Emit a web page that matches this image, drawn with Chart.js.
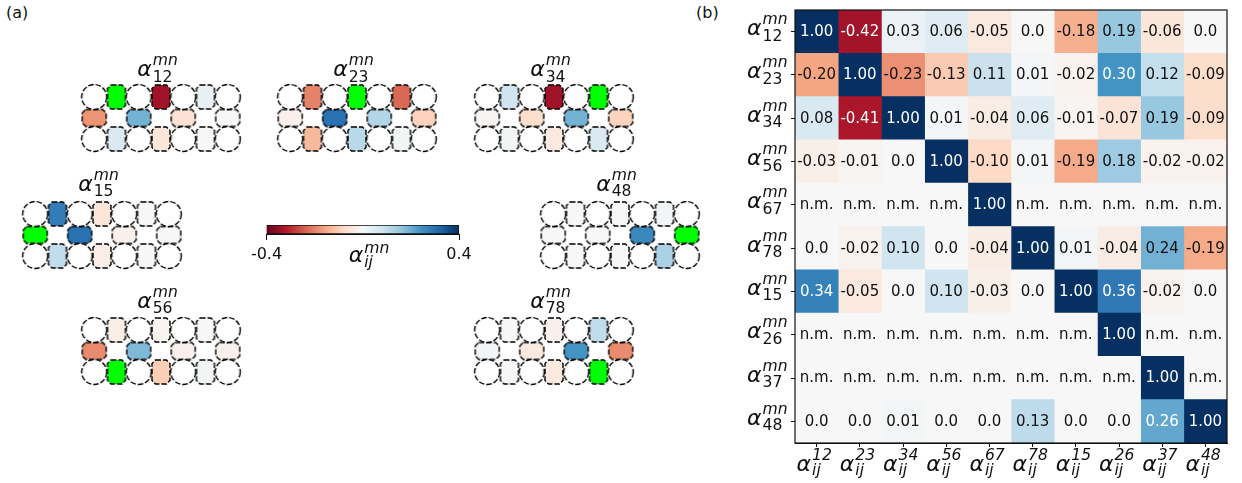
<!DOCTYPE html>
<html lang="en">
<head>
<meta charset="UTF-8">
<title>Correlation maps</title>
<script src="https://cdn.jsdelivr.net/npm/chart.js"></script>
<style>
  html, body { margin: 0; background: #fff; }
  body { position: relative; width: 1242px; height: 483px; overflow: hidden; font-family: "DejaVu Sans", sans-serif; }
  canvas { position: absolute; }
  .tag { position: absolute; font-size: 16px; line-height: 18px; color: #111; }
</style>
</head>
<body>
<div class="tag" style="left:6px;top:4px">(a)</div>
<div class="tag" style="left:696px;top:4px">(b)</div>
<canvas id="panel0"></canvas>
<canvas id="panel1"></canvas>
<canvas id="panel2"></canvas>
<canvas id="panel3"></canvas>
<canvas id="panel4"></canvas>
<canvas id="panel5"></canvas>
<canvas id="panel6"></canvas>
<canvas id="bar"></canvas>
<canvas id="heat"></canvas>
<script>
// data
const colLabels = ['12', '23', '34', '56', '67', '78', '15', '26', '37', '48'];
const rowLabels = ['12', '23', '34', '56', '67', '78', '15', '26', '37', '48'];
const nm = null; // not measured
const row12 = [1.00, -0.42, 0.03, 0.06, -0.05, 0.0, -0.18, 0.19, -0.06, 0.0];
const row23 = [-0.20, 1.00, -0.23, -0.13, 0.11, 0.01, -0.02, 0.30, 0.12, -0.09];
const row34 = [0.08, -0.41, 1.00, 0.01, -0.04, 0.06, -0.01, -0.07, 0.19, -0.09];
const row56 = [-0.03, -0.01, 0.0, 1.00, -0.10, 0.01, -0.19, 0.18, -0.02, -0.02];
const row67 = [nm, nm, nm, nm, 1.00, nm, nm, nm, nm, nm];
const row78 = [0.0, -0.02, 0.10, 0.0, -0.04, 1.00, 0.01, -0.04, 0.24, -0.19];
const row15 = [0.34, -0.05, 0.0, 0.10, -0.03, 0.0, 1.00, 0.36, -0.02, 0.0];
const row26 = [nm, nm, nm, nm, nm, nm, nm, 1.00, nm, nm];
const row37 = [nm, nm, nm, nm, nm, nm, nm, nm, 1.00, nm];
const row48 = [0.0, 0.0, 0.01, 0.0, 0.0, 0.13, 0.0, 0.0, 0.26, 1.00];
const matrix = [row12, row23, row34, row56, row67, row78, row15, row26, row37, row48];

// the small maps are a bit paler than the table says for these sites (row, column, value by eye)
const latticeTweaks = [['12', 1, -0.34], ['34', 1, -0.34], ['15', 0, 0.28], ['15', 7, 0.30]];

// lattice sites, in half steps along x and rows down y
const circleX = [0, 2, 4, 6, 0, 2, 4, 6];
const circleY = [0, 0, 0, 0, 2, 2, 2, 2];
const cellX = [1, 3, 5, 1, 3, 5, 0, 2, 4, 6];
const cellY = [0, 0, 0, 2, 2, 2, 1, 1, 1, 1];

// which row each small lattice shows, and where its top left circle sits
const panelRows = ['12', '23', '34', '15', '48', '56', '78'];
const panelSpots = [[94, 97, 0], [290, 97, 0], [486.7, 97, 0], [35, 214.3, -2.5], [553.3, 214.3, -2.5], [94, 330, -1.5], [486.7, 330, -1.5]];

const barTicks = [-0.4, 0.4];

const FONT = '"DejaVu Sans"';
const rdbu = ['#67001f', '#b2182b', '#d6604d', '#f4a582', '#fddbc7', '#f7f7f7', '#d1e5f0', '#92c5de', '#4393c3', '#2166ac', '#053061'];

function hex(c) {
  return [parseInt(c.slice(1, 3), 16), parseInt(c.slice(3, 5), 16), parseInt(c.slice(5, 7), 16)];
}

function cmap(t) {
  t = Math.min(1, Math.max(0, t));
  const p = t * (rdbu.length - 1);
  const i = Math.min(rdbu.length - 2, Math.floor(p));
  const a = hex(rdbu[i]), b = hex(rdbu[i + 1]), f = p - i;
  return 'rgb(' + a.map((v, k) => Math.round(v + (b[k] - v) * f)).join(',') + ')';
}

function heatColor(v) {
  return cmap(0.5 + (v === null ? 0 : v) / 1.0);
}

function latticeColor(name, i, v) {
  if (v === 1) return '#00ff00';
  latticeTweaks.forEach(t => { if (t[0] === name && t[1] === i) v = t[2]; });
  return cmap(0.5 + v / 0.8);
}

function cellText(v) {
  if (v === null) return 'n.m.';
  if (v === 0) return '0.0';
  return v.toFixed(2);
}

// alpha with a sub and superscript, like the mathtext labels
function drawAlpha(ctx, x, y, sup, sub, supItalic, subItalic, supUp, subDown) {
  ctx.save();
  ctx.fillStyle = '#111';
  ctx.textAlign = 'left';
  ctx.textBaseline = 'alphabetic';
  ctx.font = 'italic 22px ' + FONT;
  ctx.fillText('α', x, y);
  const w = ctx.measureText('α').width + 1;
  ctx.font = (supItalic ? 'italic ' : '') + '15.6px ' + FONT;
  ctx.fillText(sup, x + w, y - supUp);
  ctx.font = (subItalic ? 'italic ' : '') + '15.6px ' + FONT;
  ctx.fillText(sub, x + w, y + subDown);
  ctx.restore();
}

function dashed(g) {
  g.strokeStyle = '#000';
  g.lineWidth = 1.4;
  g.setLineDash([5.5, 2]);
}

function circleImage() {
  const c = document.createElement('canvas');
  c.width = 28; c.height = 28;
  const g = c.getContext('2d');
  dashed(g);
  g.fillStyle = '#fff';
  g.beginPath();
  g.arc(14, 14, 12.5, 0, Math.PI * 2);
  g.fill();
  g.stroke();
  return c;
}

function octagonImage(color, w, h, cut) {
  const c = document.createElement('canvas');
  c.width = w + 4; c.height = h + 4;
  const g = c.getContext('2d');
  dashed(g);
  g.fillStyle = color;
  const x0 = 2, y0 = 2, x1 = w + 2, y1 = h + 2;
  g.beginPath();
  g.moveTo(x0 + cut, y0);
  g.lineTo(x1 - cut, y0);
  g.lineTo(x1, y0 + cut);
  g.lineTo(x1, y1 - cut);
  g.lineTo(x1 - cut, y1);
  g.lineTo(x0 + cut, y1);
  g.lineTo(x0, y1 - cut);
  g.lineTo(x0, y0 + cut);
  g.closePath();
  g.fill();
  g.stroke();
  return c;
}

const panelWidth = 178, panelHeight = 114, panelTop = 30;

panelRows.forEach(function (name, n) {
  const values = matrix[rowLabels.indexOf(name)];
  const spot = panelSpots[n];
  const el = document.getElementById('panel' + n);
  el.width = panelWidth;
  el.height = panelHeight;
  el.style.left = (spot[0] - 22.2) + 'px';
  el.style.top = (spot[1] - 20.85 - panelTop) + 'px';

  const circleImg = circleImage();
  const cellImgs = values.map(function (v, i) {
    const tall = cellY[i] !== 1;
    const color = latticeColor(name, i, v);
    return tall ? octagonImage(color, 18, 24, 3.5) : octagonImage(color, 24, 17, 3.5);
  });

  new Chart(el, {
    type: 'scatter',
    data: {
      datasets: [
        { data: circleX.map((x, i) => ({ x: x, y: circleY[i] })), pointStyle: circleImg },
        { data: cellX.map((x, i) => ({ x: x, y: cellY[i] })), pointStyle: cellImgs }
      ]
    },
    options: {
      responsive: false,
      animation: false,
      events: [],
      layout: { autoPadding: false, padding: { top: panelTop } },
      plugins: { legend: { display: false }, tooltip: { enabled: false } },
      scales: {
        x: { display: false, min: -1, max: 7 },
        y: { display: false, min: -1, max: 3, reverse: true }
      }
    },
    plugins: [{
      id: 'panelTitle',
      afterDraw(chart) {
        const px = chart.scales.x.getPixelForValue(3) - 23.8;
        drawAlpha(chart.ctx, px, chart.chartArea.top + spot[2], 'mn', name, true, false, 11, 5.5);
      }
    }]
  });
});

// colour bar
const barEl = document.getElementById('bar');
barEl.width = 245;
barEl.height = 60;
barEl.style.left = '240px';
barEl.style.top = '215px';
new Chart(barEl, {
  type: 'bar',
  data: {
    labels: [''],
    datasets: [{
      data: [[barTicks[0], barTicks[1]]],
      borderColor: '#111',
      borderWidth: 1,
      borderSkipped: false,
      backgroundColor(c) {
        const a = c.chart.chartArea;
        if (!a) return '#fff';
        const g = c.chart.ctx.createLinearGradient(a.left, 0, a.right, 0);
        rdbu.forEach((col, i) => g.addColorStop(i / (rdbu.length - 1), col));
        return g;
      }
    }]
  },
  options: {
    indexAxis: 'y',
    responsive: false,
    animation: false,
    events: [],
    layout: { padding: { left: 26.5, right: 26, top: 10 } },
    datasets: { bar: { barPercentage: 1, categoryPercentage: 1 } },
    plugins: { legend: { display: false }, tooltip: { enabled: false } },
    scales: {
      x: {
        min: barTicks[0],
        max: barTicks[1],
        afterBuildTicks(s) { s.ticks = barTicks.map(v => ({ value: v })); },
        afterFit(s) { s.height = 41; },
        grid: { drawOnChartArea: false, tickLength: 6, color: '#111', tickWidth: 1 },
        border: { color: '#111' },
        ticks: {
          autoSkip: false,
          maxRotation: 0,
          padding: 5,
          color: '#111',
          font: { family: 'DejaVu Sans', size: 16 },
          callback: v => v.toFixed(1)
        }
      },
      y: { display: false }
    }
  },
  plugins: [{
    id: 'barLabel',
    afterDraw(chart) {
      const px = chart.scales.x.getPixelForValue(0) - 14;
      drawAlpha(chart.ctx, px, 47, 'mn', 'ij', true, true, 9, 5);
    }
  }]
});

// correlation matrix
const heatEl = document.getElementById('heat');
heatEl.width = 502;
heatEl.height = 483;
heatEl.style.left = '740px';
heatEl.style.top = '0px';
new Chart(heatEl, {
  type: 'bar',
  data: {
    labels: rowLabels,
    datasets: colLabels.map((name, c) => ({
      label: name,
      data: rowLabels.map(() => [c, c + 1]),
      backgroundColor: matrix.map(r => heatColor(r[c])),
      borderWidth: 0
    }))
  },
  options: {
    indexAxis: 'y',
    responsive: false,
    animation: false,
    events: [],
    layout: { padding: { top: 10, right: 15 } },
    datasets: { bar: { barPercentage: 1, categoryPercentage: 1, grouped: false } },
    plugins: { legend: { display: false }, tooltip: { enabled: false } },
    scales: {
      x: {
        min: 0,
        max: colLabels.length,
        afterBuildTicks(s) { s.ticks = colLabels.map((_, i) => ({ value: i + 0.5 })); },
        afterFit(s) { s.height = 40; },
        grid: { drawOnChartArea: false, tickLength: 4, color: '#111', tickWidth: 1 },
        border: { color: '#111' },
        ticks: { display: false }
      },
      y: {
        afterFit(s) { s.width = 55; },
        grid: { drawOnChartArea: false, tickLength: 4, color: '#111', tickWidth: 1, offset: false },
        border: { color: '#111' },
        ticks: { display: false }
      }
    }
  },
  plugins: [{
    id: 'heatText',
    afterDatasetsDraw(chart) {
      const ctx = chart.ctx;
      ctx.save();
      ctx.textAlign = 'center';
      ctx.textBaseline = 'middle';
      chart.data.datasets.forEach((ds, c) => {
        chart.getDatasetMeta(c).data.forEach((bar, r) => {
          const v = matrix[r][c];
          const p = bar.getCenterPoint();
          ctx.fillStyle = v !== null && Math.abs(v) > 0.25 ? '#fff' : '#111';
          ctx.font = '15px ' + FONT;
          ctx.fillText(cellText(v), p.x, p.y + 0.5);
        });
      });
      ctx.restore();
    },
    afterDraw(chart) {
      const ctx = chart.ctx, a = chart.chartArea;
      ctx.save();
      ctx.strokeStyle = '#111';
      ctx.lineWidth = 1.2;
      ctx.strokeRect(a.left, a.top, a.right - a.left, a.bottom - a.top);
      ctx.restore();
      rowLabels.forEach((name, i) => {
        const py = chart.scales.y.getPixelForTick(i);
        drawAlpha(ctx, a.left - 48, py + 3.5, 'mn', name, true, false, 11, 5.5);
      });
      colLabels.forEach((name, i) => {
        const px = chart.scales.x.getPixelForValue(i + 0.5);
        drawAlpha(ctx, px - 20, 470.5, name, 'ij', true, true, 11, 4);
      });
    }
  }]
});
</script>
</body>
</html>
